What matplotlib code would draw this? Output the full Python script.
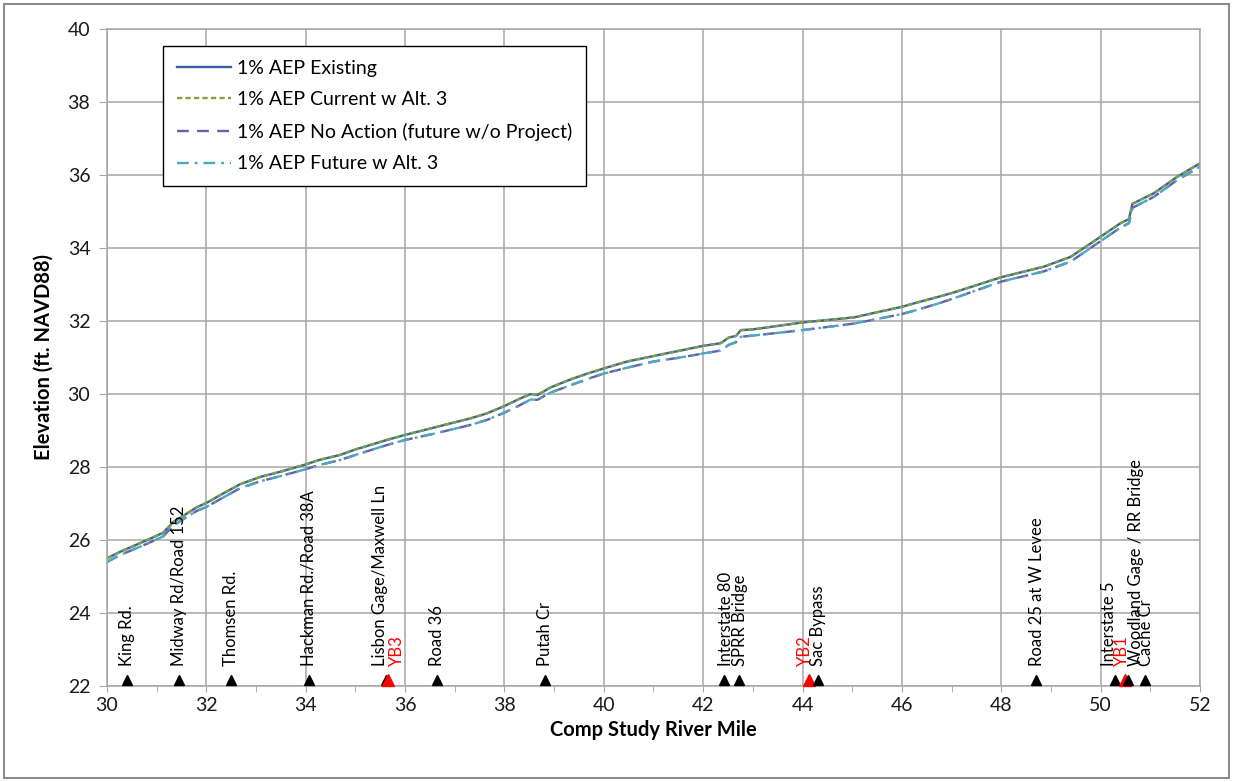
import matplotlib
matplotlib.use("Agg")
import matplotlib.pyplot as plt
import matplotlib.transforms as mtransforms
from matplotlib.patches import Rectangle
from matplotlib.ticker import MultipleLocator

plt.rcParams['font.family'] = ['Lato', 'DejaVu Sans']

# river mile stations along the profile
river_mile = [30.0, 30.27, 30.81, 31.13, 31.34, 31.51, 31.81, 32.01, 32.28, 32.68,
              33.09, 33.49, 33.95, 34.29, 34.69, 35.0, 35.63, 36.0, 36.64, 37.31,
              37.65, 38.0, 38.32, 38.53, 38.66, 38.93, 39.33, 39.67, 40.0, 40.47,
              41.0, 41.54, 42.0, 42.35, 42.52, 42.66, 42.76, 43.0, 44.0, 45.04,
              46.0, 46.37, 46.78, 47.04, 48.0, 48.86, 49.4, 50.0, 50.4, 50.57,
              50.64, 51.07, 51.54, 52.0]

existing = [25.50, 25.68, 26.00, 26.20, 26.50, 26.64, 26.90, 27.02, 27.23, 27.53,
            27.73, 27.87, 28.05, 28.20, 28.33, 28.48, 28.74, 28.88, 29.10, 29.33,
            29.47, 29.67, 29.88, 30.00, 29.97, 30.18, 30.40, 30.56, 30.70, 30.89,
            31.04, 31.19, 31.32, 31.39, 31.55, 31.59, 31.75, 31.77, 31.96, 32.10,
            32.39, 32.53, 32.68, 32.78, 33.20, 33.49, 33.76, 34.31, 34.68, 34.79,
            35.21, 35.50, 35.95, 36.32]

current_alt3 = [25.50, 25.68, 26.00, 26.20, 26.50, 26.64, 26.90, 27.02, 27.23, 27.53,
                27.73, 27.87, 28.05, 28.20, 28.33, 28.48, 28.74, 28.88, 29.10, 29.33,
                29.47, 29.67, 29.88, 30.00, 29.97, 30.18, 30.40, 30.56, 30.70, 30.89,
                31.04, 31.19, 31.32, 31.39, 31.55, 31.59, 31.75, 31.77, 31.96, 32.10,
                32.39, 32.53, 32.68, 32.78, 33.20, 33.49, 33.76, 34.31, 34.68, 34.79,
                35.21, 35.50, 35.95, 36.32]

no_action = [25.40, 25.59, 25.90, 26.10, 26.40, 26.55, 26.80, 26.91, 27.12, 27.42,
             27.61, 27.75, 27.92, 28.06, 28.19, 28.33, 28.60, 28.74, 28.93, 29.15,
             29.29, 29.49, 29.70, 29.85, 29.84, 30.04, 30.24, 30.41, 30.56, 30.72,
             30.89, 31.00, 31.11, 31.19, 31.35, 31.42, 31.57, 31.60, 31.75, 31.93,
             32.19, 32.33, 32.50, 32.62, 33.08, 33.36, 33.63, 34.19, 34.56, 34.68,
             35.10, 35.40, 35.86, 36.23]

future_alt3 = [25.40, 25.59, 25.90, 26.10, 26.40, 26.55, 26.80, 26.91, 27.12, 27.42,
               27.61, 27.75, 27.92, 28.06, 28.19, 28.33, 28.60, 28.74, 28.93, 29.15,
               29.29, 29.49, 29.70, 29.85, 29.84, 30.04, 30.24, 30.41, 30.56, 30.72,
               30.89, 31.00, 31.11, 31.19, 31.35, 31.42, 31.57, 31.60, 31.75, 31.93,
               32.19, 32.33, 32.50, 32.62, 33.08, 33.36, 33.63, 34.19, 34.56, 34.68,
               35.10, 35.40, 35.86, 36.23]

# landmarks along the river (gages YB1-YB3 in red)
landmark_names = ["King Rd.", "Midway Rd/Road 152", "Thomsen Rd.", "Hackman Rd./Road 38A",
                  "Lisbon Gage/Maxwell Ln", "YB3", "Road 36", "Putah Cr",
                  "Interstate 80", "SPRR Bridge", "YB2", "Sac Bypass",
                  "Road 25 at W Levee", "Interstate 5", "YB1",
                  "Woodland Gage / RR Bridge", "Cache Cr"]
landmark_mile = [30.40, 31.44, 32.50, 34.06, 35.62, 35.65, 36.65, 38.82,
                 42.42, 42.72, 44.12, 44.32, 48.69, 50.28, 50.49, 50.55, 50.90]
is_gage = [False, False, False, False, False, True, False, False,
           False, False, True, False, False, False, True, False, False]
# horizontal nudge of each label (points)
label_dx = [0, 0, 0, 0, -4.5, 6.5, 0, 0, 1.2, 0.8, -2.5, 0, 0.7, -4.2, -2.2, 5.5, 0.5]

fig = plt.figure(figsize=(12.33, 7.82), dpi=100)
ax = fig.add_axes([107/1233, 1 - 686/782, (1200 - 107)/1233, (686 - 29)/782])

ax.plot(river_mile, existing, color='#3760A5', lw=1.7, ls='-', label='1% AEP Existing')
ax.plot(river_mile, current_alt3, color='#7FA23E', lw=1.7, ls=(0, (2.2, 1.4)),
        label='1% AEP Current w Alt. 3')
ax.plot(river_mile, no_action, color='#6A5CA8', lw=1.7, ls=(0, (5, 3.5)),
        label='1% AEP No Action (future w/o Project)')
ax.plot(river_mile, future_alt3, color='#4AA8C0', lw=1.7, ls=(0, (5, 2.5, 1.2, 2.5)),
        label='1% AEP Future w Alt. 3')

# landmark triangles sitting on the x axis
lift = mtransforms.offset_copy(ax.transData, fig=fig, x=0, y=4, units='points')
for m, name, gage, dx in zip(landmark_mile, landmark_names, is_gage, label_dx):
    col = 'red' if gage else 'black'
    ms = 8 if gage else 6.5
    ax.plot([m], [22], marker='^', color=col, ms=ms, ls='none', clip_on=False,
            transform=lift, zorder=5)
    ax.annotate(name, xy=(m, 22), xytext=(dx, 14.5), textcoords='offset points',
                rotation=90, ha='center', va='bottom', fontsize=12,
                color=col, zorder=6)

ax.set_xlim(30, 52)
ax.set_ylim(22, 40)
ax.xaxis.set_major_locator(MultipleLocator(2))
ax.xaxis.set_minor_locator(MultipleLocator(1))
ax.yaxis.set_major_locator(MultipleLocator(2))
ax.grid(True, which='major', color='#A6A6A6', lw=1.1)
ax.set_axisbelow(True)
for s in ax.spines.values():
    s.set_color('#A6A6A6')
    s.set_linewidth(1.1)
ax.tick_params(axis='both', which='major', direction='out', color='#A6A6A6',
               labelsize=14, labelcolor='#1A1A1A')
ax.tick_params(axis='x', which='major', length=4, pad=4)
ax.tick_params(axis='x', which='minor', length=4, color='#A6A6A6')
ax.tick_params(axis='y', which='major', length=6, pad=6)

ax.set_xlabel('Comp Study River Mile', fontsize=14.5, fontweight='bold', labelpad=4)
ax.set_ylabel('Elevation (ft. NAVD88)', fontsize=14.5, fontweight='bold', labelpad=10)

leg = ax.legend(loc='upper left', bbox_to_anchor=((163 - 107)/1093, (686 - 46)/657),
                borderaxespad=0, fontsize=14, frameon=True, fancybox=False,
                handlelength=2.8, handletextpad=0.3, labelspacing=0.75,
                borderpad=0.7, framealpha=1)
leg.get_frame().set_edgecolor('black')
leg.get_frame().set_linewidth(1.0)

fig.patches.append(Rectangle((0.003, 0.005), 0.994, 0.99, transform=fig.transFigure,
                             fill=False, edgecolor='#8C8C8C', lw=1.5))

fig.savefig('out.png', dpi=100)
